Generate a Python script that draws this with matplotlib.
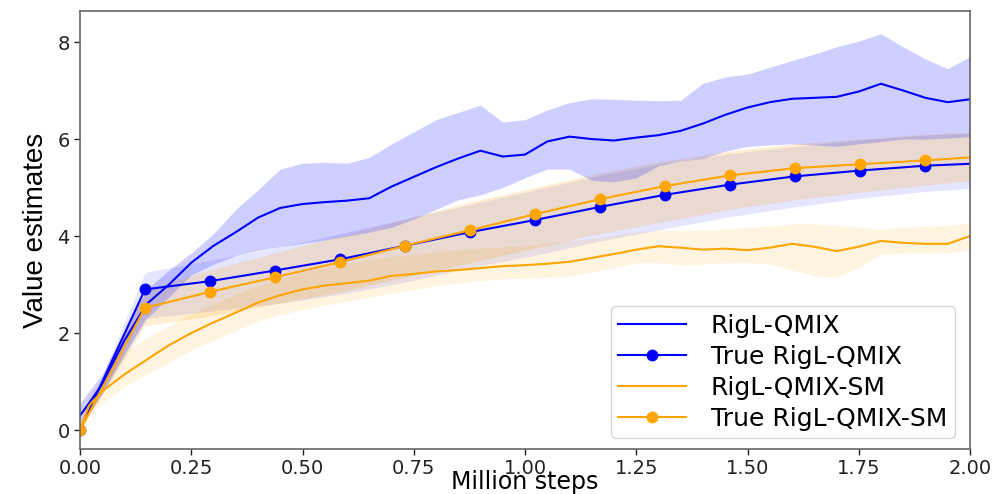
import matplotlib
matplotlib.use("Agg")
import matplotlib.pyplot as plt
import numpy as np

# ---- data ----
x_grid = [0.0, 0.02, 0.05, 0.1, 0.15, 0.2, 0.25, 0.3, 0.35, 0.4, 0.45, 0.5, 0.55, 0.6, 0.65, 0.7,
          0.75, 0.8, 0.85, 0.9, 0.95, 1.0, 1.05, 1.1, 1.15, 1.2, 1.25, 1.3, 1.35, 1.4, 1.45,
          1.5, 1.55, 1.6, 1.65, 1.7, 1.75, 1.8, 1.85, 1.9, 1.95, 2.0]

rigl_mean = [0.3, 0.55, 0.95, 1.85, 2.6, 3.0, 3.45, 3.8, 4.08, 4.38, 4.58, 4.66, 4.7, 4.73, 4.78, 5.02,
             5.22, 5.42, 5.6, 5.76, 5.64, 5.68, 5.95, 6.05, 6.0, 5.97, 6.03, 6.08, 6.17, 6.32, 6.5,
             6.65, 6.76, 6.83, 6.85, 6.87, 6.98, 7.14, 7.0, 6.85, 6.76, 6.82]
rigl_low = [0.05, 0.35, 0.75, 1.55, 2.3, 2.75, 3.2, 3.42, 3.6, 3.7, 3.78, 3.85, 3.92, 4.0, 4.08, 4.18,
            4.35, 4.55, 4.75, 4.85, 5.0, 5.2, 5.38, 5.38, 5.15, 5.12, 5.2, 5.45, 5.55, 5.6, 5.75,
            5.85, 5.88, 5.9, 5.88, 5.85, 5.9, 5.95, 6.0, 6.0, 6.02, 6.05]
rigl_high = [0.55, 0.8, 1.15, 2.05, 2.9, 3.3, 3.65, 4.05, 4.55, 4.95, 5.38, 5.5, 5.52, 5.5, 5.62, 5.9,
             6.15, 6.4, 6.55, 6.7, 6.35, 6.4, 6.6, 6.75, 6.83, 6.82, 6.8, 6.79, 6.8, 7.15, 7.28,
             7.34, 7.48, 7.62, 7.75, 7.9, 8.02, 8.17, 7.9, 7.65, 7.45, 7.7]

sm_mean = [0.0, 0.5, 0.8, 1.15, 1.45, 1.75, 2.0, 2.22, 2.42, 2.63, 2.78, 2.9, 2.98, 3.03, 3.08, 3.18,
           3.22, 3.27, 3.3, 3.34, 3.38, 3.4, 3.43, 3.47, 3.55, 3.63, 3.72, 3.79, 3.76, 3.72, 3.74,
           3.71, 3.76, 3.84, 3.78, 3.69, 3.78, 3.9, 3.86, 3.84, 3.84, 4.0]
sm_low = [0.0, 0.3, 0.55, 0.9, 1.15, 1.4, 1.65, 1.85, 2.05, 2.25, 2.38, 2.48, 2.58, 2.65, 2.75, 2.82,
          2.9, 2.98, 3.03, 3.08, 3.12, 3.13, 3.15, 3.18, 3.25, 3.35, 3.45, 3.45, 3.4, 3.42, 3.45,
          3.45, 3.42, 3.3, 3.18, 3.15, 3.35, 3.62, 3.65, 3.65, 3.66, 3.71]
sm_high = [0.2, 0.7, 1.1, 1.6, 1.9, 2.15, 2.4, 2.6, 2.8, 2.98, 3.12, 3.25, 3.35, 3.42, 3.5, 3.58,
           3.62, 3.68, 3.72, 3.75, 3.78, 3.8, 3.85, 3.9, 3.95, 4.02, 4.08, 4.12, 4.12, 4.12, 4.15,
           4.18, 4.2, 4.25, 4.25, 4.22, 4.18, 4.15, 4.18, 4.2, 4.22, 4.28]

x_true = [0.0, 0.146, 0.292, 0.438, 0.584, 0.73, 0.876, 1.022, 1.168, 1.314, 1.46, 1.606, 1.752, 1.898, 2.0]
true_rigl = [0.0, 2.9, 3.07, 3.29, 3.52, 3.8, 4.08, 4.33, 4.6, 4.85, 5.06, 5.23, 5.35, 5.45, 5.49]
true_rigl_low = [0.0, 2.3, 2.45, 2.6, 2.8, 3.05, 3.35, 3.6, 3.9, 4.15, 4.4, 4.6, 4.78, 4.92, 4.98]
true_rigl_high = [0.0, 3.25, 3.5, 3.75, 4.05, 4.35, 4.65, 4.95, 5.25, 5.5, 5.7, 5.85, 5.98, 6.08, 6.12]
true_sm = [0.0, 2.52, 2.85, 3.15, 3.46, 3.8, 4.12, 4.45, 4.76, 5.03, 5.25, 5.4, 5.48, 5.56, 5.62]
true_sm_low = [0.0, 2.15, 2.35, 2.6, 2.85, 3.15, 3.45, 3.75, 4.05, 4.3, 4.55, 4.75, 4.9, 5.05, 5.14]
true_sm_high = [0.0, 2.9, 3.3, 3.65, 4.0, 4.35, 4.7, 5.0, 5.3, 5.55, 5.75, 5.9, 6.0, 6.1, 6.14]

labels = ["RigL-QMIX", "True RigL-QMIX", "RigL-QMIX-SM", "True RigL-QMIX-SM"]
x_ticks = [0.0, 0.25, 0.5, 0.75, 1.0, 1.25, 1.5, 1.75, 2.0]
y_ticks = [0, 2, 4, 6, 8]

# ---- figure ----
fig = plt.figure(figsize=(10.07, 4.94), dpi=100)
ax = fig.add_axes([80/1007, 45/494, 890/1007, 438/494])

BLUE = "#0000ff"
ORANGE = "#ffa500"

ax.fill_between(x_true, true_rigl_low, true_rigl_high, color=BLUE, alpha=0.1, linewidth=0)
ax.fill_between(x_true, true_sm_low, true_sm_high, color=ORANGE, alpha=0.18, linewidth=0)
ax.fill_between(x_grid, sm_low, sm_high, color=ORANGE, alpha=0.12, linewidth=0)
ax.fill_between(x_grid, rigl_low, rigl_high, color=BLUE, alpha=0.19, linewidth=0)

n = len(x_true)
ax.plot(x_grid, rigl_mean, color=BLUE, lw=1.5, label=labels[0])
ax.plot(x_true, true_rigl, color=BLUE, lw=1.5, marker="o", ms=7.5, markevery=list(range(n - 1)), label=labels[1])
ax.plot(x_grid, sm_mean, color=ORANGE, lw=1.5, label=labels[2])
ax.plot(x_true, true_sm, color=ORANGE, lw=1.5, marker="o", ms=7.5, markevery=list(range(n - 1)), label=labels[3])

ax.set_xlim(0, 2.0)
ax.set_ylim(-0.39, 8.64)
ax.set_xticks(x_ticks)
ax.set_xticklabels([f"{v:.2f}" for v in x_ticks])
ax.set_yticks(y_ticks)
ax.tick_params(labelsize=14, colors="#222222", length=4, width=1, pad=3.5)
for s in ax.spines.values():
    s.set_color("#666666")
    s.set_linewidth(1.2)

ax.set_ylabel("Value estimates", family=["Liberation Sans", "DejaVu Sans"], fontsize=20, labelpad=6)
ax.set_xlabel("Million steps", fontsize=17, labelpad=-6)

leg = ax.legend(loc="lower right", bbox_to_anchor=(0.983, 0.025), borderaxespad=0,
                fontsize=18, handlelength=2.7, handletextpad=1.0, labelspacing=0.28,
                borderpad=0.3, frameon=True)

fig.savefig("out.png", dpi=100)
